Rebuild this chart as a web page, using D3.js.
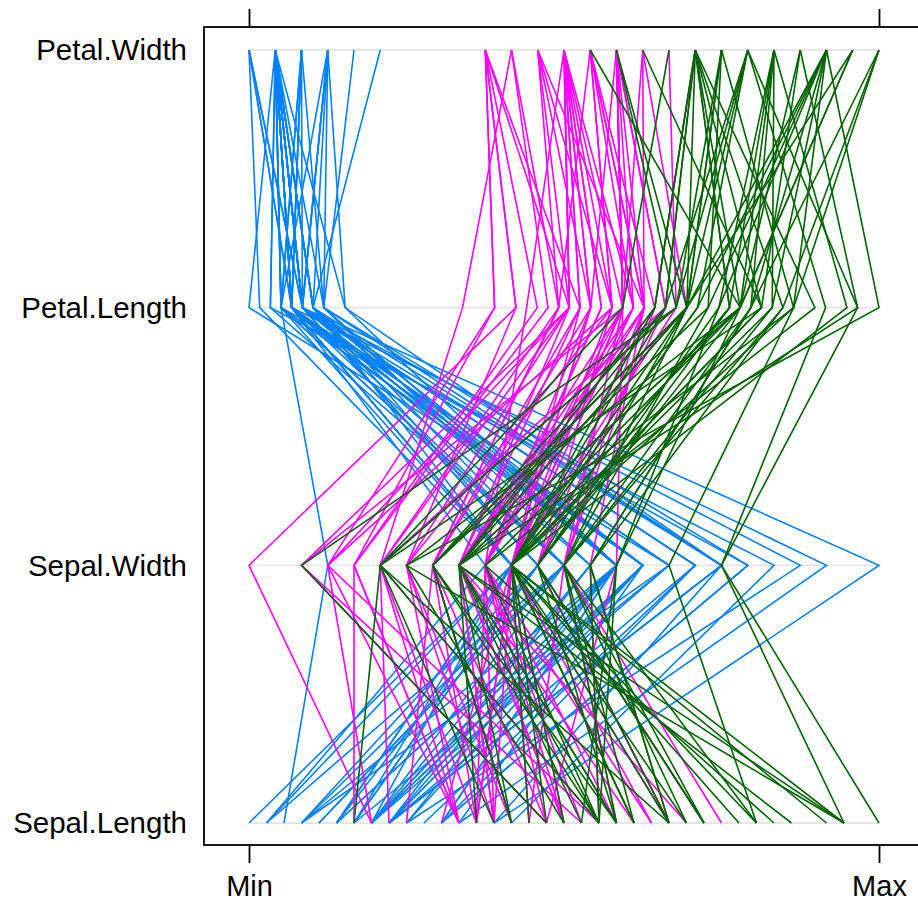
<!DOCTYPE html>
<html>
<head>
<meta charset="utf-8">
<script src="https://cdn.jsdelivr.net/npm/d3@7"></script>
<style>
  body { margin: 0; background: #fff; }
  text { font-family: "Liberation Sans", Arial, sans-serif; }
</style>
</head>
<body>
<div id="chart"></div>
<script>
// iris measurements, rows in dataset order
const sepalLength = [5.1,4.9,4.7,4.6,5.0,5.4,4.6,5.0,4.4,4.9,5.4,4.8,4.8,4.3,5.8,5.7,5.4,5.1,5.7,5.1,5.4,5.1,4.6,5.1,4.8,5.0,5.0,5.2,5.2,4.7,4.8,5.4,5.2,5.5,4.9,5.0,5.5,4.9,4.4,5.1,5.0,4.5,4.4,5.0,5.1,4.8,5.1,4.6,5.3,5.0,
  7.0,6.4,6.9,5.5,6.5,5.7,6.3,4.9,6.6,5.2,5.0,5.9,6.0,6.1,5.6,6.7,5.6,5.8,6.2,5.6,5.9,6.1,6.3,6.1,6.4,6.6,6.8,6.7,6.0,5.7,5.5,5.5,5.8,6.0,5.4,6.0,6.7,6.3,5.6,5.5,5.5,6.1,5.8,5.0,5.6,5.7,5.7,6.2,5.1,5.7,
  6.3,5.8,7.1,6.3,6.5,7.6,4.9,7.3,6.7,7.2,6.5,6.4,6.8,5.7,5.8,6.4,6.5,7.7,7.7,6.0,6.9,5.6,7.7,6.3,6.7,7.2,6.2,6.1,6.4,7.2,7.4,7.9,6.4,6.3,6.1,7.7,6.3,6.4,6.0,6.9,6.7,6.9,5.8,6.8,6.7,6.7,6.3,6.5,6.2,5.9];
const sepalWidth = [3.5,3.0,3.2,3.1,3.6,3.9,3.4,3.4,2.9,3.1,3.7,3.4,3.0,3.0,4.0,4.4,3.9,3.5,3.8,3.8,3.4,3.7,3.6,3.3,3.4,3.0,3.4,3.5,3.4,3.2,3.1,3.4,4.1,4.2,3.1,3.2,3.5,3.6,3.0,3.4,3.5,2.3,3.2,3.5,3.8,3.0,3.8,3.2,3.7,3.3,
  3.2,3.2,3.1,2.3,2.8,2.8,3.3,2.4,2.9,2.7,2.0,3.0,2.2,2.9,2.9,3.1,3.0,2.7,2.2,2.5,3.2,2.8,2.5,2.8,2.9,3.0,2.8,3.0,2.9,2.6,2.4,2.4,2.7,2.7,3.0,3.4,3.1,2.3,3.0,2.5,2.6,3.0,2.6,2.3,2.7,3.0,2.9,2.9,2.5,2.8,
  3.3,2.7,3.0,2.9,3.0,3.0,2.5,2.9,2.5,3.6,3.2,2.7,3.0,2.5,2.8,3.2,3.0,3.8,2.6,2.2,3.2,2.8,2.8,2.7,3.3,3.2,2.8,3.0,2.8,3.0,2.8,3.8,2.8,2.8,2.6,3.0,3.4,3.1,3.0,3.1,3.1,3.1,2.7,3.2,3.3,3.0,2.5,3.0,3.4,3.0];
const petalLength = [1.4,1.4,1.3,1.5,1.4,1.7,1.4,1.5,1.4,1.5,1.5,1.6,1.4,1.1,1.2,1.5,1.3,1.4,1.7,1.5,1.7,1.5,1.0,1.7,1.9,1.6,1.6,1.5,1.4,1.6,1.6,1.5,1.5,1.4,1.5,1.2,1.3,1.4,1.3,1.5,1.3,1.3,1.3,1.6,1.9,1.4,1.6,1.4,1.5,1.4,
  4.7,4.5,4.9,4.0,4.6,4.5,4.7,3.3,4.6,3.9,3.5,4.2,4.0,4.7,3.6,4.4,4.5,4.1,4.5,3.9,4.8,4.0,4.9,4.7,4.3,4.4,4.8,5.0,4.5,3.5,3.8,3.7,3.9,5.1,4.5,4.5,4.7,4.4,4.1,4.0,4.4,4.6,4.0,3.3,4.2,4.2,4.2,4.3,3.0,4.1,
  6.0,5.1,5.9,5.6,5.8,6.6,4.5,6.3,5.8,6.1,5.1,5.3,5.5,5.0,5.1,5.3,5.5,6.7,6.9,5.0,5.7,4.9,6.7,4.9,5.7,6.0,4.8,4.9,5.6,5.8,6.1,6.4,5.6,5.1,5.6,6.1,5.6,5.5,4.8,5.4,5.6,5.1,5.1,5.9,5.7,5.2,5.0,5.2,5.4,5.1];
const petalWidth = [0.2,0.2,0.2,0.2,0.2,0.4,0.3,0.2,0.2,0.1,0.2,0.2,0.1,0.1,0.2,0.4,0.4,0.3,0.3,0.3,0.2,0.4,0.2,0.5,0.2,0.2,0.4,0.2,0.2,0.2,0.2,0.4,0.1,0.2,0.2,0.2,0.2,0.1,0.2,0.2,0.3,0.3,0.2,0.6,0.4,0.3,0.2,0.2,0.2,0.2,
  1.4,1.5,1.5,1.3,1.5,1.3,1.6,1.0,1.3,1.4,1.0,1.5,1.0,1.4,1.3,1.4,1.5,1.0,1.5,1.1,1.8,1.3,1.5,1.2,1.3,1.4,1.4,1.7,1.5,1.0,1.1,1.0,1.2,1.6,1.5,1.6,1.5,1.3,1.3,1.3,1.2,1.4,1.2,1.0,1.3,1.2,1.3,1.3,1.1,1.3,
  2.5,1.9,2.1,1.8,2.2,2.1,1.7,1.8,1.8,2.5,2.0,1.9,2.1,2.0,2.4,2.3,1.8,2.2,2.3,1.5,2.3,2.0,2.0,1.8,2.1,1.8,1.8,1.8,2.1,1.6,1.9,2.0,2.2,1.5,1.4,2.3,2.4,1.8,1.8,2.1,2.4,2.3,1.9,2.3,2.5,2.3,1.9,2.0,2.3,1.8];
const species = ["setosa", "versicolor", "virginica"];
const speciesColors = ["#0080ff", "#ff00ff", "#006400"];
const variables = ["Sepal.Length", "Sepal.Width", "Petal.Length", "Petal.Width"];
const columns = [sepalLength, sepalWidth, petalLength, petalWidth];
const xTickLabels = ["Min", "Max"];

const W = 918, H = 907;
const panel = { left: 204, top: 27, right: 924, bottom: 845 };
const xMin = 249, xMax = 879;

const svg = d3.select("#chart").append("svg")
  .attr("width", W)
  .attr("height", H);

// one scale per variable, each mapped min..max onto the same horizontal span
const varScales = columns.map(col => d3.scaleLinear()
  .domain(d3.extent(col))
  .range([xMin, xMax]));

const x = d3.scaleLinear().domain([0, 1]).range([xMin, xMax]);

const y = d3.scalePoint()
  .domain(variables)
  .range([823, 50]);

// reference lines
svg.append("g")
  .selectAll("line")
  .data(variables)
  .join("line")
  .attr("x1", xMin)
  .attr("x2", xMax)
  .attr("y1", d => y(d))
  .attr("y2", d => y(d))
  .attr("stroke", "#e6e6e6")
  .attr("stroke-width", 1.8);

// one polyline per flower
const rows = d3.range(sepalLength.length).map(i => ({
  group: Math.floor(i / 50),
  pts: variables.map((v, j) => [varScales[j](columns[j][i]), y(v)])
}));

svg.append("g")
  .selectAll("path")
  .data(rows)
  .join("path")
  .attr("d", d => d3.line()(d.pts))
  .attr("fill", "none")
  .attr("stroke", d => speciesColors[d.group])
  .attr("stroke-width", 1.6);

// panel border
svg.append("rect")
  .attr("x", panel.left)
  .attr("y", panel.top)
  .attr("width", panel.right - panel.left)
  .attr("height", panel.bottom - panel.top)
  .attr("fill", "none")
  .attr("stroke", "#000")
  .attr("stroke-width", 1.8);

// x axes (bottom with labels, top ticks only)
const bottomAxis = svg.append("g")
  .attr("transform", `translate(0,${panel.bottom})`)
  .call(d3.axisBottom(x).tickValues([0, 1]).tickFormat((d, i) => xTickLabels[i]).tickSize(18).tickPadding(12));
bottomAxis.select(".domain").remove();
bottomAxis.selectAll("line").attr("stroke-width", 1.8);
bottomAxis.selectAll("text")
  .attr("font-size", 29)
  .attr("fill", "#000")
  .attr("font-family", "Liberation Sans, Arial, sans-serif");

const topAxis = svg.append("g")
  .attr("transform", `translate(0,${panel.top})`)
  .call(d3.axisTop(x).tickValues([0, 1]).tickFormat("").tickSize(18));
topAxis.select(".domain").remove();
topAxis.selectAll("line").attr("stroke-width", 1.8);

// y labels
svg.append("g")
  .selectAll("text")
  .data(variables)
  .join("text")
  .attr("x", 187)
  .attr("y", d => y(d))
  .attr("dy", "0.35em")
  .attr("text-anchor", "end")
  .attr("font-size", 29.5)
  .attr("fill", "#000")
  .text(d => d);
</script>
</body>
</html>
